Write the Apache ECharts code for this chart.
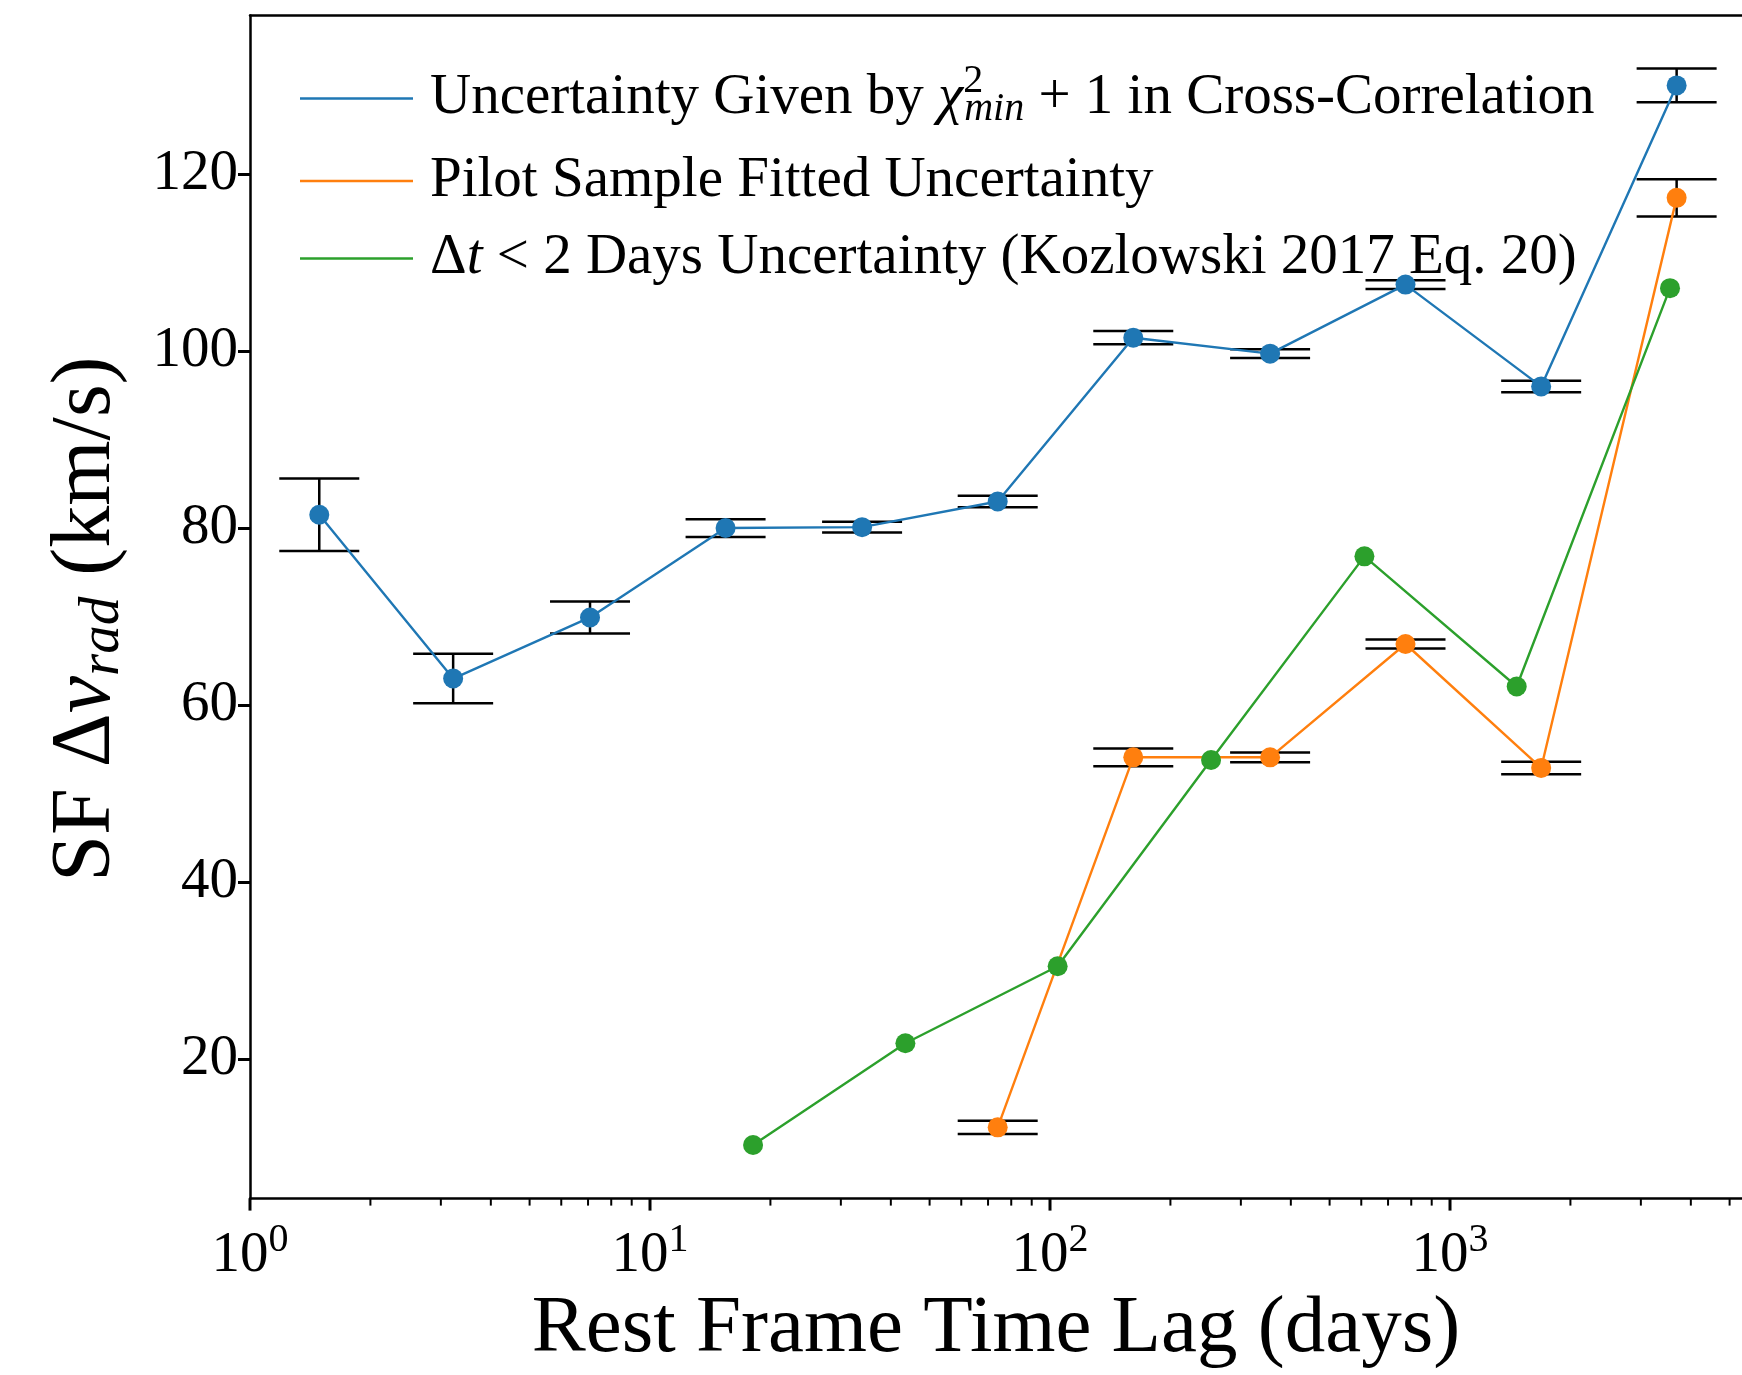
<!DOCTYPE html>
<html><head><meta charset="utf-8">
<script src="https://cdn.jsdelivr.net/npm/echarts@6/dist/echarts.min.js"></script>
<style>html,body{margin:0;padding:0;background:#fff}#c{width:1742px;height:1375px}</style>
</head><body><div id="c"></div>
<script>
// ---- data ----
const blueX = [1.49, 3.22, 7.08, 15.45, 33.9, 74.0, 161.5, 355, 774, 1690, 3686];
const blueY = [81.5, 63.0, 69.9, 80.0, 80.1, 83.0, 101.5, 99.7, 107.5, 96.0, 130.0];
const blueErr = [4.1, 2.8, 1.8, 1.0, 0.6, 0.65, 0.75, 0.5, 0.5, 0.65, 1.9];
const orangeX = [74.0, 161.5, 355, 774, 1690, 3686];
const orangeY = [12.3, 54.1, 54.1, 66.9, 52.9, 117.3];
const orangeErr = [0.75, 1.0, 0.55, 0.5, 0.7, 2.1];
const greenX = [18.1, 43.5, 104.5, 252.7, 611, 1468, 3548];
const greenY = [10.3, 21.8, 30.5, 53.8, 76.8, 62.1, 107.1];
const yTickValues = [20, 40, 60, 80, 100, 120];
const xMajorTicks = [1, 10, 100, 1000];
const xMinorTicks = [2,3,4,5,6,7,8,9,20,30,40,50,60,70,80,90,200,300,400,500,600,700,800,900,2000,3000,4000,5000];
const seriesNames = ['blue', 'orange', 'green'];
const legendLabels = {
  blue: 'Uncertainty Given by {it|χ}{sup|2}{sub|min} + 1 in Cross-Correlation',
  orange: 'Pilot Sample Fitted Uncertainty',
  green: 'Δ{it|t} < 2 Days Uncertainty (Kozlowski 2017 Eq. 20)'
};
const colors = { blue: '#1f77b4', orange: '#ff7f0e', green: '#2ca02c' };

const FONT = 'Liberation Serif';
const Y_MIN = 4.25, Y_MAX = 137.9, X_MIN = 1, X_MAX = 5370;

function pairs(xs, ys) { return xs.map((x, i) => [x, ys[i]]); }
function errData(xs, ys, es) { return xs.map((x, i) => [x, ys[i] - es[i], ys[i] + es[i]]); }

function errRender(params, api) {
  const x = api.value(0);
  const lo = api.coord([x, api.value(1)]);
  const hi = api.coord([x, api.value(2)]);
  const cap = 40;
  const st = { stroke: '#000', lineWidth: 2.5 };
  return { type: 'group', children: [
    { type: 'line', shape: { x1: lo[0], y1: lo[1], x2: hi[0], y2: hi[1] }, style: st },
    { type: 'line', shape: { x1: lo[0] - cap, y1: lo[1], x2: lo[0] + cap, y2: lo[1] }, style: st },
    { type: 'line', shape: { x1: hi[0] - cap, y1: hi[1], x2: hi[0] + cap, y2: hi[1] }, style: st }
  ]};
}
function tickRender(params, api) {
  const p = api.coord([api.value(0), Y_MIN]);
  const major = api.value(1) === 1;
  const len = major ? 12 : 7;
  return { type: 'line', shape: { x1: p[0], y1: p[1], x2: p[0], y2: p[1] + len },
    style: { stroke: '#000', lineWidth: major ? 3 : 2 } };
}

const lineSeries = (name, xs, ys) => ({
  name, type: 'line', data: pairs(xs, ys), symbol: 'circle', symbolSize: 20,
  itemStyle: { color: colors[name] }, lineStyle: { color: colors[name], width: 2.4 },
  z: 3, animation: false
});

const rich = {
  it: { fontFamily: FONT, fontStyle: 'italic', fontSize: 57, color: '#000', lineHeight: 64 },
  sup: { fontFamily: FONT, fontSize: 40, color: '#000', width: 1, padding: [0, 0, 34, 0], lineHeight: 30 },
  sub: { fontFamily: FONT, fontStyle: 'italic', fontSize: 40, color: '#000', padding: [22, 0, 0, 0], lineHeight: 30 }
};

const chart = echarts.init(document.getElementById('c'), null, { renderer: 'canvas' });
chart.setOption({
  backgroundColor: '#fff',
  animation: false,
  grid: { left: 250, top: 15.5, right: 0, bottom: 171.7, containLabel: false },
  legend: {
    data: seriesNames, orient: 'vertical', left: 300, top: 61.5, itemGap: 13.5, padding: 0,
    icon: 'rect', itemWidth: 113, itemHeight: 2.5,
    formatter: n => legendLabels[n],
    textStyle: { fontFamily: FONT, fontSize: 57, color: '#000', lineHeight: 64, padding: [0, 0, 0, 12], rich }
  },
  xAxis: [{
    type: 'log', logBase: 10, min: X_MIN, max: X_MAX, position: 'bottom',
    axisLine: { show: true, onZero: false, lineStyle: { color: '#000', width: 2.5 } },
    axisTick: { show: false }, splitLine: { show: false }, minorTick: { show: false },
    axisLabel: {
      showMaxLabel: false, margin: 22, color: '#000', fontFamily: FONT, fontSize: 57,
      formatter: v => '10{sup|' + Math.round(Math.log10(v)) + '}',
      rich: { sup: { fontFamily: FONT, fontSize: 40, color: '#000', padding: [0, 0, 30, 0] } }
    },
    name: 'Rest Frame Time Lag (days)', nameLocation: 'middle', nameGap: 82,
    nameTextStyle: { fontFamily: FONT, fontSize: 81, color: '#000' }
  }, {
    type: 'log', logBase: 10, min: X_MIN, max: X_MAX, position: 'top',
    axisLine: { show: true, lineStyle: { color: '#000', width: 2.5 } },
    axisTick: { show: false }, axisLabel: { show: false }, splitLine: { show: false }
  }],
  yAxis: {
    type: 'value', min: Y_MIN, max: Y_MAX,
    axisLine: { show: true, onZero: false, lineStyle: { color: '#000', width: 2.5 } },
    axisTick: { show: true, length: 12, lineStyle: { color: '#000', width: 3 }, customValues: yTickValues },
    axisLabel: { margin: 12, color: '#000', fontFamily: FONT, fontSize: 57, customValues: yTickValues },
    splitLine: { show: false },
    name: 'SF Δ{it|v}{sub|rad} (km/s)', nameLocation: 'middle', nameGap: 118, nameRotate: 90,
    nameTextStyle: { fontFamily: FONT, fontSize: 84, color: '#000', padding: [0, 24, 0, 0],
      rich: {
        it: { fontFamily: FONT, fontStyle: 'italic', fontSize: 84, color: '#000' },
        sub: { fontFamily: FONT, fontStyle: 'italic', fontSize: 57, color: '#000', padding: [34, 0, 0, 0] }
      } }
  },
  series: [
    { type: 'custom', name: 'xticks', renderItem: tickRender, silent: true, z: 5,
      data: xMajorTicks.map(v => [v, 1]).concat(xMinorTicks.map(v => [v, 0])) },
    { type: 'custom', name: 'err-blue', renderItem: errRender, data: errData(blueX, blueY, blueErr), z: 2, silent: true },
    { type: 'custom', name: 'err-orange', renderItem: errRender, data: errData(orangeX, orangeY, orangeErr), z: 2, silent: true },
    lineSeries('blue', blueX, blueY),
    lineSeries('orange', orangeX, orangeY),
    lineSeries('green', greenX, greenY)
  ]
});
</script></body></html>
